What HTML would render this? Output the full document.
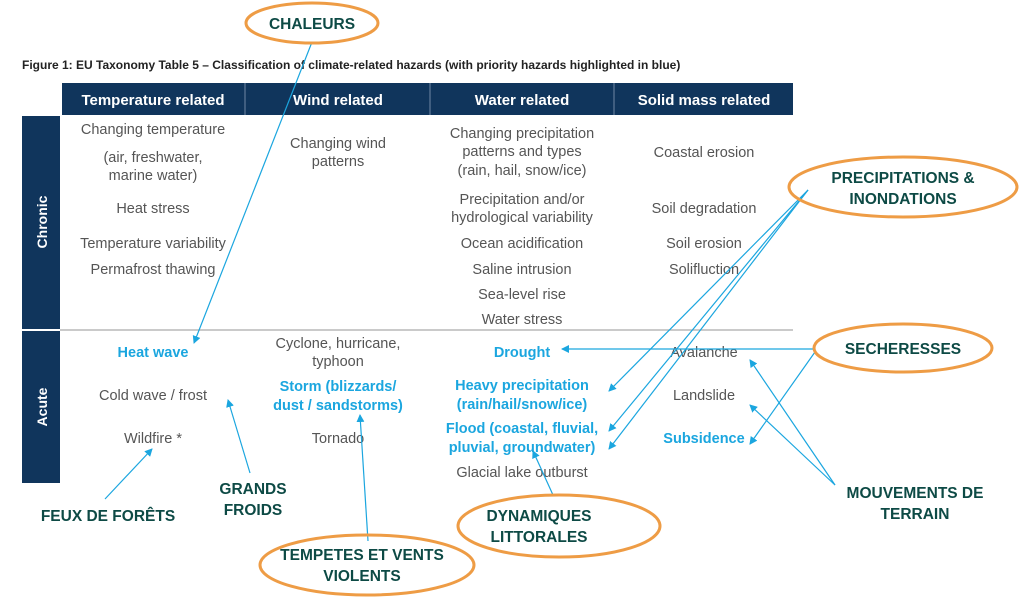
<!DOCTYPE html>
<html><head><meta charset="utf-8"><style>
body{margin:0;background:#fff;width:1024px;height:597px;overflow:hidden;position:relative;font-family:"Liberation Sans",sans-serif}
svg{position:absolute;left:0;top:0}
</style></head><body>
<svg width="1024" height="597" viewBox="0 0 1024 597" font-family="Liberation Sans, sans-serif">
<defs><marker id="a" markerWidth="8" markerHeight="8" refX="7" refY="4" orient="auto" markerUnits="userSpaceOnUse"><path d="M0,0 L8,4 L0,8 z" fill="#1ba6df"/></marker></defs>
<text x="22" y="69" font-size="12" fill="#222" font-weight="bold">Figure 1:  EU Taxonomy Table 5 – Classification of climate-related hazards (with priority hazards highlighted in blue)</text>
<rect x="62" y="83" width="731" height="32" fill="#10355c"/>
<g stroke="#6f87a3" stroke-width="1"><line x1="245" y1="83" x2="245" y2="115"/><line x1="430" y1="83" x2="430" y2="115"/><line x1="614" y1="83" x2="614" y2="115"/></g>
<g fill="#fff" font-size="15" font-weight="bold" text-anchor="middle"><text x="153" y="105">Temperature related</text><text x="338" y="105">Wind related</text><text x="522" y="105">Water related</text><text x="704" y="105">Solid mass related</text></g>
<rect x="22" y="116" width="38" height="213" fill="#10355c"/>
<rect x="22" y="331" width="38" height="152" fill="#10355c"/>
<text transform="translate(47,222) rotate(-90)" fill="#fff" font-size="14" font-weight="bold" text-anchor="middle">Chronic</text>
<text transform="translate(47,407) rotate(-90)" fill="#fff" font-size="14" font-weight="bold" text-anchor="middle">Acute</text>
<line x1="60" y1="330" x2="793" y2="330" stroke="#aaa" stroke-width="1.2"/>
<g fill="#555" font-size="14.5" text-anchor="middle">
<text x="153" y="134">Changing temperature</text><text x="153" y="162">(air, freshwater,</text><text x="153" y="180">marine water)</text>
<text x="153" y="213">Heat stress</text><text x="153" y="248">Temperature variability</text><text x="153" y="274">Permafrost thawing</text>
<text x="338" y="148">Changing wind</text><text x="338" y="166">patterns</text>
<text x="522" y="138">Changing precipitation</text><text x="522" y="156">patterns and types</text><text x="522" y="175">(rain, hail, snow/ice)</text>
<text x="522" y="204">Precipitation and/or</text><text x="522" y="222">hydrological variability</text>
<text x="522" y="248">Ocean acidification</text><text x="522" y="274">Saline intrusion</text><text x="522" y="299">Sea-level rise</text><text x="522" y="324">Water stress</text>
<text x="704" y="157">Coastal erosion</text><text x="704" y="213">Soil degradation</text><text x="704" y="248">Soil erosion</text><text x="704" y="274">Solifluction</text>
<text x="153" y="400">Cold wave / frost</text><text x="153" y="443">Wildfire *</text>
<text x="338" y="348">Cyclone, hurricane,</text><text x="338" y="366">typhoon</text><text x="338" y="443">Tornado</text>
<text x="522" y="477">Glacial lake outburst</text>
<text x="704" y="357">Avalanche</text><text x="704" y="400">Landslide</text>
</g>
<g fill="#1ba6df" font-size="14.5" font-weight="bold" text-anchor="middle">
<text x="153" y="357">Heat wave</text>
<text x="338" y="391">Storm (blizzards/</text><text x="338" y="410">dust / sandstorms)</text>
<text x="522" y="357">Drought</text>
<text x="522" y="390">Heavy precipitation</text><text x="522" y="409">(rain/hail/snow/ice)</text>
<text x="522" y="433">Flood (coastal, fluvial,</text><text x="522" y="452">pluvial, groundwater)</text>
<text x="704" y="443">Subsidence</text>
</g>
<g stroke="#1ba6df" stroke-width="1.2" fill="none" marker-end="url(#a)">
<line x1="312" y1="42" x2="194" y2="343"/>
<line x1="808" y1="190" x2="609" y2="391"/>
<line x1="808" y1="190" x2="609" y2="431"/>
<line x1="808" y1="190" x2="609" y2="449"/>
<line x1="815" y1="349" x2="562" y2="349"/>
<line x1="815" y1="352" x2="750" y2="444"/>
<line x1="835" y1="485" x2="750" y2="360"/>
<line x1="835" y1="485" x2="750" y2="405"/>
<line x1="553" y1="495" x2="533" y2="451"/>
<line x1="368" y1="541" x2="360" y2="415"/>
<line x1="250" y1="473" x2="228" y2="400"/>
<line x1="105" y1="499" x2="152" y2="449"/>
</g>
<g fill="none" stroke="#ee9c45" stroke-width="3">
<ellipse cx="312" cy="23" rx="66" ry="20"/>
<ellipse cx="903" cy="187" rx="114" ry="30"/>
<ellipse cx="903" cy="348" rx="89" ry="24"/>
<ellipse cx="559" cy="526" rx="101" ry="31"/>
<ellipse cx="367" cy="565" rx="107" ry="30"/>
</g>
<g fill="#0d4a45" font-size="15.5" font-weight="bold" text-anchor="middle">
<text x="312" y="29">CHALEURS</text>
<text x="903" y="183">PRECIPITATIONS &amp;</text><text x="903" y="204">INONDATIONS</text>
<text x="903" y="354">SECHERESSES</text>
<text x="915" y="498">MOUVEMENTS DE</text><text x="915" y="519">TERRAIN</text>
<text x="539" y="521">DYNAMIQUES</text><text x="539" y="542">LITTORALES</text>
<text x="362" y="560">TEMPETES ET VENTS</text><text x="362" y="581">VIOLENTS</text>
<text x="253" y="494">GRANDS</text><text x="253" y="515">FROIDS</text>
<text x="108" y="521">FEUX DE FORÊTS</text>
</g>
</svg>
</body></html>
